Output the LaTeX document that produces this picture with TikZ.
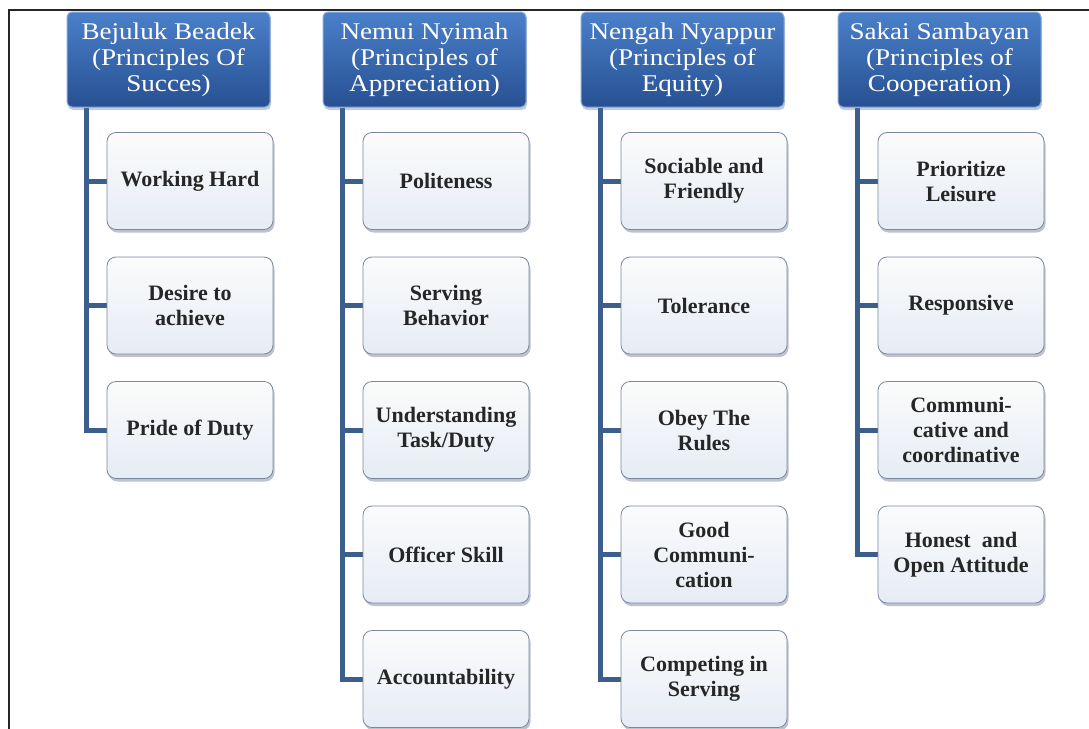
\documentclass[tikz,border=0pt]{standalone}
\usepackage{fontspec}
\setmainfont{Liberation Serif}
\newfontfamily\hdfont[FakeStretch=1.13]{Liberation Serif}
\usetikzlibrary{shadows,calc}
\definecolor{hdtop}{HTML}{4A80CA}
\definecolor{hdbot}{HTML}{275092}
\definecolor{hdedge}{HTML}{86AADB}
\definecolor{hdshadow}{HTML}{5A6E8C}
\definecolor{connc}{HTML}{3B5E8C}
\definecolor{chtop}{HTML}{FBFBFB}
\definecolor{chbot}{HTML}{E6ECF5}
\definecolor{chedge}{HTML}{7A889E}
\definecolor{chshadow}{HTML}{6C7C96}
\pgfdeclarelayer{bg}
\pgfsetlayers{bg,main}
\tikzset{
  hdbox/.style={rectangle, rounded corners=5pt, minimum width=203pt, minimum height=95pt,
    top color=hdtop, bottom color=hdbot, draw=hdedge, line width=1pt, text=white,
    font=\hdfont\fontsize{24}{26}\selectfont, align=center, inner sep=0pt,
    drop shadow={shadow xshift=1pt, shadow yshift=-3pt, opacity=0.35, fill=hdshadow}},
  chbox/.style={rectangle, rounded corners=9pt, minimum width=166pt, minimum height=97pt,
    top color=chtop, bottom color=chbot, draw=chedge, line width=0.8pt, text=black!85,
    font=\bfseries\fontsize{22}{25}\selectfont, align=center, inner sep=0pt,
    drop shadow={shadow xshift=1.5pt, shadow yshift=-3pt, opacity=0.45, fill=chshadow}},
  connline/.style={draw=connc, line width=5pt},
  framelin/.style={draw=black!85, line width=2.5pt}
}
\begin{document}
\begin{tikzpicture}[x=1pt,y=-1pt]
\useasboundingbox (0,0) rectangle (1089,728);

% headers
\node[hdbox] (h1) at (168.5,59.5) {Bejuluk Beadek\\(Principles Of\\Succes)};
\node[hdbox] (h2) at (424.5,59.5) {Nemui Nyimah\\(Principles of\\Appreciation)};
\node[hdbox] (h3) at (682.5,59.5) {Nengah Nyappur\\(Principles of\\Equity)};
\node[hdbox] (h4) at (939.5,59.5) {Sakai Sambayan\\(Principles of\\Cooperation)};

% column 1
\node[chbox] (c11) at (190,181)   {Working Hard};
\node[chbox] (c12) at (190,305.5) {Desire to\\achieve};
\node[chbox] (c13) at (190,430)   {Pride of Duty};
% column 2
\node[chbox] (c21) at (446,181)   {Politeness};
\node[chbox] (c22) at (446,305.5) {Serving\\Behavior};
\node[chbox] (c23) at (446,430)   {Understanding\\Task/Duty};
\node[chbox] (c24) at (446,554.5) {Officer Skill};
\node[chbox] (c25) at (446,679)   {Accountability};
% column 3
\node[chbox] (c31) at (704,181)   {Sociable and\\Friendly};
\node[chbox] (c32) at (704,305.5) {Tolerance};
\node[chbox] (c33) at (704,430)   {Obey The\\Rules};
\node[chbox] (c34) at (704,554.5) {Good\\Communi-\\cation};
\node[chbox] (c35) at (704,679)   {Competing in\\Serving};
% column 4
\node[chbox] (c41) at (961,181)   {Prioritize\\Leisure};
\node[chbox] (c42) at (961,305.5) {Responsive};
\node[chbox] (c43) at (961,430)   {Communi-\\cative and\\coordinative};
\node[chbox] (c44) at (961,554.5) {Honest\ \ and\\Open Attitude};

\coordinate (v1) at ($(h1.south west)+(20,0)$);
\coordinate (v2) at ($(h2.south west)+(20,0)$);
\coordinate (v3) at ($(h3.south west)+(20,0)$);
\coordinate (v4) at ($(h4.south west)+(20,0)$);

\begin{pgfonlayer}{bg}
\fill[white] (0,0) rectangle (1089,728);
\draw[framelin] (9,730) -- (9,10) -- (1092,10);
\draw[connline] (v1) |- (c13.west);
\foreach \c in {c11,c12} \draw[connline] (v1 |- \c.west) -- (\c.west);
\draw[connline] (v2) |- (c25.west);
\foreach \c in {c21,c22,c23,c24} \draw[connline] (v2 |- \c.west) -- (\c.west);
\draw[connline] (v3) |- (c35.west);
\foreach \c in {c31,c32,c33,c34} \draw[connline] (v3 |- \c.west) -- (\c.west);
\draw[connline] (v4) |- (c44.west);
\foreach \c in {c41,c42,c43} \draw[connline] (v4 |- \c.west) -- (\c.west);
\end{pgfonlayer}
\end{tikzpicture}
\end{document}
